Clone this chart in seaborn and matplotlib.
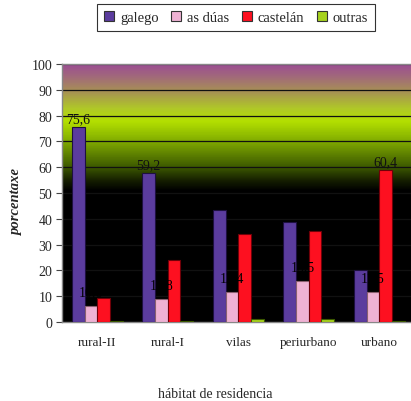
import numpy as np
import pandas as pd
import seaborn as sns
import matplotlib
matplotlib.use("Agg")
import matplotlib.pyplot as plt
from matplotlib.colors import LinearSegmentedColormap
from matplotlib.patches import Patch

categories = ["rural-II", "rural-I", "vilas", "periurbano", "urbano"]
series = ["galego", "as dúas", "castelán", "outras"]
galego = [75.4, 57.7, 43.3, 38.6, 20.0]
as_duas = [6.2, 8.9, 11.5, 15.9, 11.5]
castelan = [9.2, 24.0, 34.2, 35.4, 59.0]
outras = [0.5, 0.5, 1.2, 1.2, 0.5]
colors = ["#5b3c9e", "#efb2d4", "#fd1020", "#a6d21e"]
edges = ["#1e1040", "#8a6070", "#700008", "#3c5a00"]
yticks = list(range(0, 101, 10))
# value labels as they appear on the chart
top_labels = {("galego", 0): "75,6", ("galego", 1): "59,2", ("castelán", 4): "60,4"}
duas_labels = ["10,6", "11,8", "12,4", "13,5", "11,5"]

values = [galego, as_duas, castelan, outras]
df = pd.DataFrame({
    "cat": np.repeat(categories, len(series)),
    "ser": series * len(categories),
    "val": [values[j][i] for i in range(len(categories)) for j in range(len(series))],
})

sns.set_style("white")
plt.rcParams["font.family"] = ["Liberation Serif", "DejaVu Serif"]

fig = plt.figure(figsize=(4.11, 4.02), dpi=100)
W, H = 411, 402
ax = fig.add_axes([62 / W, 1 - 323 / H, (411 - 62) / W, (323 - 65) / H])

xl = (-0.5, 4.45)
# background gradient
stops = [(0.0, "#000000"), (0.51, "#000000"), (0.55, "#162000"), (0.60, "#3c5800"),
         (0.66, "#648800"), (0.72, "#8cb800"), (0.78, "#b4e000"), (0.83, "#b0c828"),
         (0.89, "#a89650"), (0.95, "#a26c78"), (1.0, "#9c4e92")]
cmap = LinearSegmentedColormap.from_list("bg", stops)
grad = np.linspace(0, 1, 400).reshape(-1, 1)
ax.imshow(grad, cmap=cmap, origin="lower", aspect="auto",
          extent=(xl[0], xl[1], 0, 100), zorder=0)

sns.barplot(data=df, x="cat", y="val", hue="ser", palette=colors, width=0.72,
            saturation=1, ax=ax, legend=False, zorder=3)
for j, cont in enumerate(ax.containers):
    for p in cont:
        p.set_edgecolor(edges[j])
        p.set_linewidth(0.8)

for y in yticks[1:]:
    ax.axhline(y, color="#111111", lw=0.9, zorder=1)

ax.set_xlim(*xl)
ax.set_ylim(0, 100)
ax.set_yticks(yticks)
ax.set_yticklabels([str(t) for t in yticks], fontsize=10)
ax.set_xticks(range(len(categories)))
ax.set_xticklabels(categories, fontsize=9.5)
ax.set_xticks(np.arange(-0.5, 4.0, 1.0), minor=True)
ax.tick_params(axis="x", which="major", length=0, pad=10)
ax.tick_params(axis="x", which="minor", length=4, direction="out", color="#444444", width=0.8)
ax.tick_params(axis="y", length=4, direction="out", color="#444444", width=0.8, pad=3, left=True)
ax.set_xlabel("")
ax.set_ylabel("")
for s in ["top", "bottom", "left"]:
    ax.spines[s].set_color("#888888")
    ax.spines[s].set_linewidth(1.0)
ax.spines["right"].set_visible(False)

# labels
for j, cont in enumerate(ax.containers):
    for i, p in enumerate(cont):
        key = (series[j], i)
        if key in top_labels:
            ax.text(p.get_x() + p.get_width() / 2, p.get_height() + 0.8, top_labels[key],
                    ha="center", va="bottom", fontsize=10, color="#111111", zorder=5)
        if j == 1:
            ax.text(p.get_x() + p.get_width() / 2, p.get_height() + 3.0, duas_labels[i],
                    ha="center", va="bottom", fontsize=10, color="#000000", zorder=5)

fig.text(17 / W, 1 - 202 / H, "porcentaxe", rotation=90, ha="center", va="center",
         fontsize=10.5, fontweight="bold", fontstyle="italic")
fig.text(215 / W, 1 - 395 / H, "hábitat de residencia", ha="center", va="center", fontsize=10)

handles = [Patch(facecolor=c, edgecolor="#333333", linewidth=0.8) for c in colors]
leg = fig.legend(handles, series, loc="center", bbox_to_anchor=(236 / W, 1 - 18.5 / H),
                 ncol=4, frameon=True, fontsize=10.5, handlelength=0.7, handleheight=0.7,
                 handletextpad=0.4, columnspacing=0.85, borderpad=0.45, fancybox=False)
leg.get_frame().set_edgecolor("#000000")
leg.get_frame().set_linewidth(0.8)

fig.savefig("out.png", dpi=100)
